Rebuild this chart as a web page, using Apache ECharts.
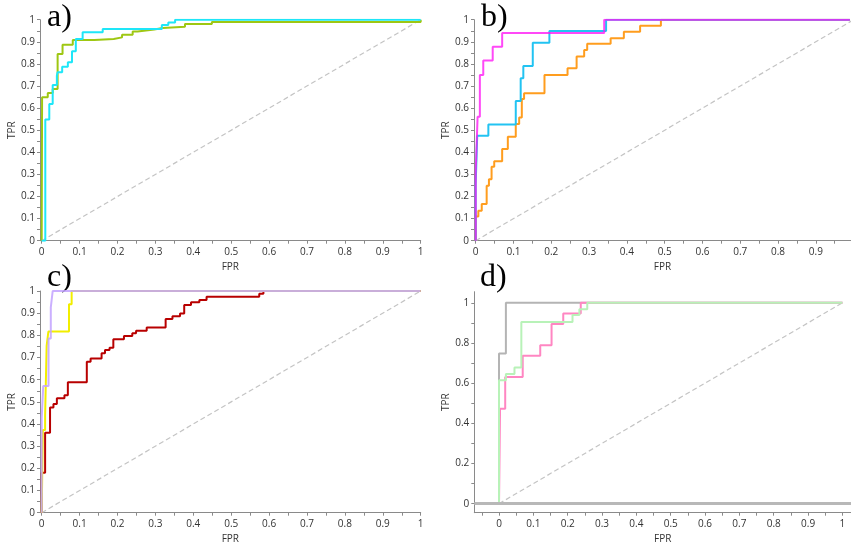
<!DOCTYPE html>
<html>
<head>
<meta charset="utf-8">
<script src="https://cdn.jsdelivr.net/npm/echarts@6/dist/echarts.min.js"></script>
<style>html,body{margin:0;padding:0;background:#fff}#c{width:851px;height:549px}</style>
</head>
<body>
<div id="c"></div>
<script>
// ---------- Panel a ----------
const aGreenFpr = [0, 0.001, 0.016, 0.029, 0.042, 0.055, 0.082, 0.139, 0.19, 0.212, 0.24, 0.253, 0.297, 0.319, 0.378, 0.449, 1];
const aGreenTpr = [0, 0.649, 0.668, 0.686, 0.845, 0.887, 0.908, 0.913, 0.92, 0.932, 0.947, 0.956, 0.962, 0.968, 0.98, 0.99, 1];
const aCyanFpr = [0, 0.0095, 0.02, 0.029, 0.04, 0.042, 0.054, 0.069, 0.08, 0.09, 0.108, 0.161, 0.317, 0.334, 0.352, 1];
const aCyanTpr = [0, 0.548, 0.619, 0.705, 0.747, 0.762, 0.787, 0.807, 0.857, 0.913, 0.943, 0.958, 0.976, 0.987, 1, 1];
// ---------- Panel b ----------
const bMagentaFpr = [0, 0, 0.005, 0.011, 0.02, 0.045, 0.07, 0.34, 0.99];
const bMagentaTpr = [0, 0.312, 0.561, 0.75, 0.815, 0.878, 0.94, 1, 1];
const bCyanFpr = [0, 0, 0.004, 0.0335, 0.106, 0.119, 0.126, 0.151, 0.195, 0.345, 0.99];
const bCyanTpr = [0, 0.257, 0.475, 0.526, 0.632, 0.735, 0.79, 0.896, 0.949, 1, 1];
const bOrangeFpr = [0, 0, 0.007, 0.016, 0.029, 0.035, 0.042, 0.049, 0.07, 0.085, 0.106, 0.115, 0.122, 0.128, 0.182, 0.243, 0.267, 0.287, 0.295, 0.357, 0.392, 0.435, 0.49, 0.99];
const bOrangeTpr = [0, 0.109, 0.136, 0.166, 0.249, 0.278, 0.335, 0.36, 0.415, 0.47, 0.528, 0.558, 0.641, 0.667, 0.75, 0.78, 0.834, 0.863, 0.891, 0.916, 0.946, 0.973, 1, 1];
// ---------- Panel c ----------
const cRedFpr = [0, 0, 0.009, 0.022, 0.031, 0.04, 0.06, 0.069, 0.119, 0.129, 0.158, 0.167, 0.179, 0.189, 0.217, 0.239, 0.249, 0.277, 0.327, 0.345, 0.365, 0.376, 0.394, 0.416, 0.435, 0.574, 0.585, 1];
const cRedTpr = [0, 0.18, 0.361, 0.475, 0.49, 0.516, 0.53, 0.588, 0.681, 0.696, 0.719, 0.734, 0.744, 0.782, 0.797, 0.809, 0.821, 0.835, 0.874, 0.886, 0.899, 0.937, 0.949, 0.959, 0.974, 0.988, 1, 1];
const cYellowFpr = [0, 0.003, 0.009, 0.013, 0.0176, 0.072, 0.079, 1];
const cYellowTpr = [0, 0.373, 0.44, 0.752, 0.817, 0.94, 1, 1];
const cVioletFpr = [0, 0, 0.004, 0.018, 0.024, 0.029, 1];
const cVioletTpr = [0, 0.428, 0.571, 0.786, 0.926, 1, 1];
// ---------- Panel d ----------
const dGreyFpr = [0, 0, 0.02, 1];
const dGreyTpr = [0, 0.748, 1, 1];
const dGreenFpr = [0, 0, 0.02, 0.045, 0.065, 0.214, 0.234, 0.257, 1];
const dGreenTpr = [0, 0.614, 0.645, 0.678, 0.904, 0.939, 0.968, 1, 1];
const dPinkFpr = [0, 0.003, 0.018, 0.069, 0.12, 0.153, 0.187, 0.238, 1];
const dPinkTpr = [0, 0.473, 0.63, 0.736, 0.789, 0.894, 0.947, 1, 1];
// ---------- Ticks ----------
const ticks05 = [0, 0.05, 0.1, 0.15, 0.2, 0.25, 0.3, 0.35, 0.4, 0.45, 0.5, 0.55, 0.6, 0.65, 0.7, 0.75, 0.8, 0.85, 0.9, 0.95, 1];
const labels01 = [0, 0.1, 0.2, 0.3, 0.4, 0.5, 0.6, 0.7, 0.8, 0.9, 1];
const labelsB = [0, 0.1, 0.2, 0.3, 0.4, 0.5, 0.6, 0.7, 0.8, 0.9];
const ticksDX = [-0.05, 0, 0.05, 0.1, 0.15, 0.2, 0.25, 0.3, 0.35, 0.4, 0.45, 0.5, 0.55, 0.6, 0.65, 0.7, 0.75, 0.8, 0.85, 0.9, 0.95, 1];
const ticksDY = [0, 0.1, 0.2, 0.3, 0.4, 0.5, 0.6, 0.7, 0.8, 0.9, 1];
const labelsDY = [0, 0.2, 0.4, 0.6, 0.8, 1];
const diag = [[0, 0], [1, 1]];

const zip = (xs, ys) => xs.map((x, i) => [x, ys[i]]);
const fmt = v => String(Math.round(v * 100) / 100);
const FONT = 'Open Sans';
const AX = '#8a8a8a';

function xAxis(gi, min, max, tickVals, labelVals) {
  return {
    type: 'value', gridIndex: gi, min, max, name: 'FPR', nameLocation: 'middle', nameGap: 21,
    nameTextStyle: { fontFamily: FONT, fontSize: 10, color: '#333' },
    axisLine: { show: true, onZero: false, lineStyle: { color: AX, width: 1 } },
    axisTick: { show: true, length: 3, customValues: tickVals, lineStyle: { color: AX } },
    axisLabel: { customValues: labelVals, formatter: fmt, fontFamily: FONT, fontSize: 10, color: '#333', margin: 6 },
    splitLine: { show: false }
  };
}
function yAxis(gi, min, max, tickVals, labelVals) {
  return {
    type: 'value', gridIndex: gi, min, max, name: 'TPR', nameLocation: 'middle', nameGap: 23,
    nameTextStyle: { fontFamily: FONT, fontSize: 10, color: '#333' },
    axisLine: { show: true, onZero: false, lineStyle: { color: AX, width: 1 } },
    axisTick: { show: true, length: 3, customValues: tickVals, lineStyle: { color: AX } },
    axisLabel: { customValues: labelVals, formatter: fmt, fontFamily: FONT, fontSize: 10, color: '#333', margin: 5 },
    splitLine: { show: false }
  };
}
function roc(gi, xs, ys, color, width, opacity) {
  return {
    type: 'line', xAxisIndex: gi, yAxisIndex: gi, data: zip(xs, ys), step: 'end',
    showSymbol: false, silent: true, animation: false,
    lineStyle: { color, width: width || 2, opacity: opacity == null ? 1 : opacity }
  };
}
function diagSeries(gi) {
  return {
    type: 'line', xAxisIndex: gi, yAxisIndex: gi, data: diag, showSymbol: false, silent: true, animation: false,
    lineStyle: { color: '#c4c4c4', width: 1.2, type: [5, 3] }
  };
}

const chart = echarts.init(document.getElementById('c'), null, { renderer: 'canvas' });
chart.setOption({
  animation: false,
  backgroundColor: '#fff',
  grid: [
    { left: 40, top: 19.7, width: 380.7, height: 221 },
    { left: 474, top: 19.7, width: 377, height: 221 },
    { left: 40, top: 291, width: 380.7, height: 221.7 },
    { left: 474.3, top: 291.7, width: 376.7, height: 221 }
  ],
  xAxis: [
    xAxis(0, -0.0045, 1, ticks05, labels01),
    xAxis(1, -0.0045, 0.993, ticks05, labelsB),
    xAxis(2, -0.0045, 1, ticks05, labels01),
    xAxis(3, -0.072, 1.025, ticksDX, labels01)
  ],
  yAxis: [
    yAxis(0, 0, 1, ticks05, labels01),
    yAxis(1, 0, 1, ticks05, labels01),
    yAxis(2, 0, 1, ticks05, labels01),
    yAxis(3, -0.045, 1.055, ticksDY, labelsDY)
  ],
  graphic: [
    { type: 'text', left: 47, top: 2, style: { text: 'a)', font: '32px "Liberation Serif"', fill: '#000' } },
    { type: 'text', left: 481, top: 2, style: { text: 'b)', font: '32px "Liberation Serif"', fill: '#000' } },
    { type: 'text', left: 47, top: 262, style: { text: 'c)', font: '32px "Liberation Serif"', fill: '#000' } },
    { type: 'text', left: 480, top: 262, style: { text: 'd)', font: '32px "Liberation Serif"', fill: '#000' } }
  ],
  series: [
    diagSeries(0),
    roc(0, aGreenFpr, aGreenTpr, '#9ec712', 2),
    roc(0, aCyanFpr, aCyanTpr, '#1ee6f8', 2),
    diagSeries(1),
    roc(1, bOrangeFpr, bOrangeTpr, '#ff9d1e', 2),
    roc(1, bCyanFpr, bCyanTpr, '#22c3f2', 2),
    roc(1, bMagentaFpr, bMagentaTpr, '#ff14f5', 2, 0.78),
    diagSeries(2),
    roc(2, cRedFpr, cRedTpr, '#b80000', 2),
    roc(2, cYellowFpr, cYellowTpr, '#f2ee00', 2),
    roc(2, cVioletFpr, cVioletTpr, '#c2a2ff', 2, 0.85),
    Object.assign(diagSeries(3), {
      markLine: { silent: true, symbol: 'none', label: { show: false },
        lineStyle: { color: '#b8b8b8', width: 3, type: 'solid' }, data: [{ yAxis: 0 }] }
    }),
    roc(3, dGreyFpr, dGreyTpr, '#b4b4b4', 2),
    roc(3, dPinkFpr, dPinkTpr, '#ff86c2', 2),
    roc(3, dGreenFpr, dGreenTpr, '#b8f2b8', 2)
  ]
});
</script>
</body>
</html>
